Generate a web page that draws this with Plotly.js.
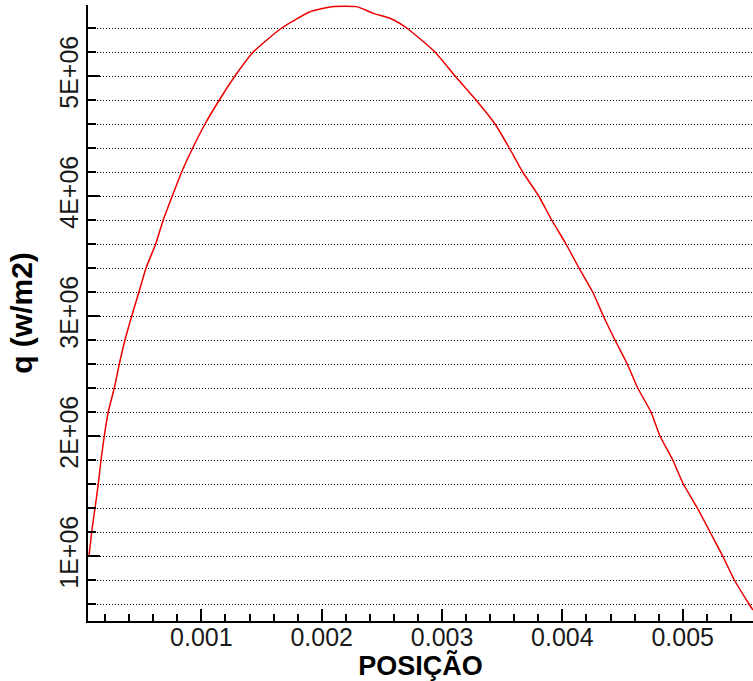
<!DOCTYPE html>
<html>
<head>
<meta charset="utf-8">
<script src="https://cdn.plot.ly/plotly-3.0.1.min.js"></script>
<style>
html,body{margin:0;padding:0;background:#fff;}
#chart{width:753px;height:681px;}
</style>
</head>
<body>
<div id="chart"></div>
<script>
// Position (m)
const posicao = [0.0000659, 0.0000883, 0.000116, 0.000143, 0.000166, 0.000193, 0.000226, 0.000276, 0.000318, 0.000365,
  0.000421, 0.000481, 0.00054, 0.00062, 0.000683, 0.000758, 0.000836, 0.000928, 0.00103, 0.001149,
  0.001279, 0.001431, 0.001667, 0.001903, 0.002085, 0.00219, 0.002293, 0.002429, 0.002567, 0.002706,
  0.002941, 0.003108, 0.003282, 0.00344, 0.003559, 0.00367, 0.003803, 0.003911, 0.00403, 0.004138,
  0.004252, 0.00434, 0.004437, 0.004539, 0.004626, 0.004736, 0.004811, 0.004917, 0.005005, 0.005121,
  0.005227, 0.005332, 0.005429, 0.005551, 0.005584];
// Heat flux q (W/m2)
const q = [1.0e6, 1.2e6, 1.4e6, 1.6e6, 1.8e6, 2.0e6, 2.2e6, 2.4e6, 2.6e6, 2.8e6,
  3.0e6, 3.2e6, 3.4e6, 3.6e6, 3.8e6, 4.0e6, 4.2e6, 4.4e6, 4.6e6, 4.8e6,
  5.0e6, 5.2e6, 5.4e6, 5.536e6, 5.578e6, 5.582e6, 5.578e6, 5.522e6, 5.481e6, 5.4e6,
  5.2e6, 5.0e6, 4.8e6, 4.6e6, 4.4e6, 4.2e6, 4.0e6, 3.8e6, 3.6e6, 3.4e6,
  3.2e6, 3.0e6, 2.8e6, 2.6e6, 2.4e6, 2.2e6, 2.0e6, 1.8e6, 1.6e6, 1.4e6,
  1.2e6, 1.0e6, 0.8e6, 0.6e6, 0.55e6];

const xTickVals = [0.001, 0.002, 0.003, 0.004, 0.005];
const xTickText = ["0.001", "0.002", "0.003", "0.004", "0.005"];
const yTickVals = [1e6, 2e6, 3e6, 4e6, 5e6];
const yTickText = ["1E+06", "2E+06", "3E+06", "4E+06", "5E+06"];

const tickFont = {family: '"Liberation Sans", Arial, sans-serif', size: 25, color: '#1a1a1a'};
const titleFont = {family: '"Liberation Sans", Arial, sans-serif', size: 27, color: '#000'};
const gridDash = '1px,2px';

const trace = {
  x: posicao, y: q, type: 'scatter', mode: 'lines',
  line: {color: 'rgb(235,0,0)', width: 1.5, shape: 'spline', smoothing: 0.5},
  hoverinfo: 'skip'
};

const layout = {
  width: 753, height: 681,
  margin: {l: 88, r: 0, t: 5, b: 60},
  paper_bgcolor: '#fff', plot_bgcolor: '#fff',
  showlegend: false,
  xaxis: {
    range: [0.0000576, 0.005584],
    tickmode: 'array', tickvals: xTickVals, ticktext: xTickText,
    ticks: 'inside', ticklen: 12, tickwidth: 2, tickcolor: '#000',
    ticklabelstandoff: -7,
    showline: true, linecolor: '#000', linewidth: 2,
    showgrid: false, zeroline: false,
    minor: {tick0: 0, dtick: 0.0002, ticks: 'inside', ticklen: 7, tickwidth: 2, tickcolor: '#000', showgrid: false},
    tickfont: tickFont,
    title: {text: '<b>POSIÇÃO</b>', font: titleFont, standoff: 7},
    automargin: false
  },
  yaxis: {
    range: [0.4583e6, 5.5917e6],
    tickmode: 'array', tickvals: yTickVals, ticktext: yTickText,
    tickangle: -90,
    ticks: 'inside', ticklen: 12, tickwidth: 2, tickcolor: '#000',
    ticklabelstandoff: -2,
    showline: true, linecolor: '#000', linewidth: 2,
    showgrid: true, gridcolor: '#000', gridwidth: 1, griddash: gridDash,
    zeroline: false,
    minor: {tick0: 0, dtick: 2e5, ticks: 'inside', ticklen: 8, tickwidth: 2, tickcolor: '#000',
            showgrid: true, gridcolor: '#000', gridwidth: 1, griddash: gridDash},
    tickfont: tickFont,
    title: {text: '<b>q (w/m2)</b>', font: Object.assign({}, titleFont, {size: 30}), standoff: 14},
    automargin: false
  }
};

Plotly.newPlot('chart', [trace], layout, {staticPlot: true, displayModeBar: false});
</script>
</body>
</html>
